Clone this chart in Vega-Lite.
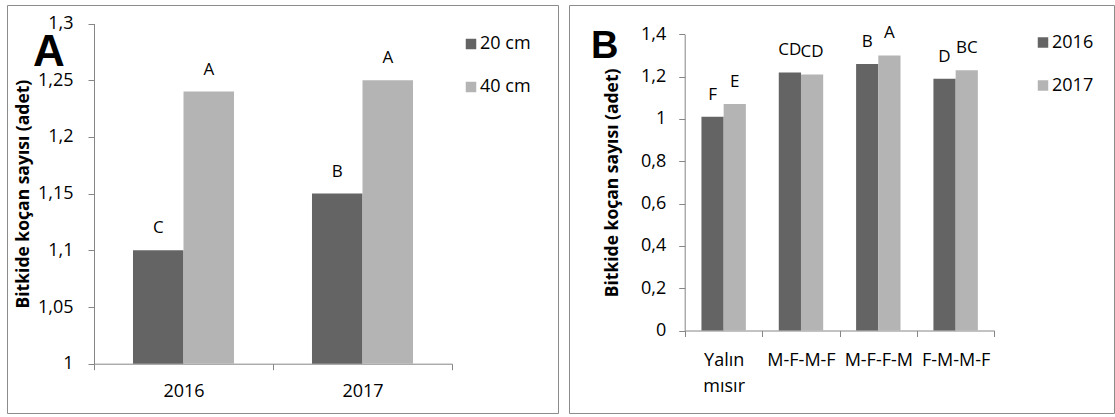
{
  "$schema": "https://vega.github.io/schema/vega-lite/v6.json",
  "background": "white",
  "padding": {"left": 6, "top": 4, "right": 0, "bottom": 0},
  "spacing": 9,
  "config": {
    "font": "Open Sans",
    "view": {"stroke": "#8c8c8c", "strokeWidth": 1},
    "axis": {
      "grid": false,
      "domainColor": "#868686",
      "tickColor": "#868686",
      "tickSize": 6,
      "labelColor": "#000000",
      "labelFontSize": 18,
      "labelFont": "Open Sans",
      "titleColor": "#000000",
      "titleFont": "Open Sans",
      "titleFontSize": 17.5,
      "titleFontWeight": "bold",
      "labelOverlap": false
    },
    "legend": {
      "title": null,
      "orient": "none",
      "symbolType": "square",
      "symbolSize": 110,
      "symbolStrokeWidth": 0,
      "symbolOpacity": 1,
      "labelFontSize": 18,
      "labelFont": "Open Sans",
      "labelColor": "#000000",
      "labelOffset": 0,
      "rowPadding": 25
    },
    "title": {
      "anchor": "start",
      "frame": "group",
      "font": "Liberation Sans Narrow, Liberation Sans",
      "fontWeight": "bold",
      "color": "#000000",
      "baseline": "alphabetic",
      "offset": 0
    }
  },
  "datasets": {
    "aralik": [
      {"yil": "2016", "aralik": "20 cm", "deger": 1.10, "harf": "C"},
      {"yil": "2016", "aralik": "40 cm", "deger": 1.24, "harf": "A"},
      {"yil": "2017", "aralik": "20 cm", "deger": 1.15, "harf": "B"},
      {"yil": "2017", "aralik": "40 cm", "deger": 1.25, "harf": "A"}
    ],
    "sistem": [
      {"sistem": "Yalın mısır", "yil": "2016", "deger": 1.01, "harf": "F"},
      {"sistem": "Yalın mısır", "yil": "2017", "deger": 1.07, "harf": "E"},
      {"sistem": "M-F-M-F", "yil": "2016", "deger": 1.22, "harf": "CD"},
      {"sistem": "M-F-M-F", "yil": "2017", "deger": 1.21, "harf": "CD"},
      {"sistem": "M-F-F-M", "yil": "2016", "deger": 1.26, "harf": "B"},
      {"sistem": "M-F-F-M", "yil": "2017", "deger": 1.30, "harf": "A"},
      {"sistem": "F-M-M-F", "yil": "2016", "deger": 1.19, "harf": "D"},
      {"sistem": "F-M-M-F", "yil": "2017", "deger": 1.23, "harf": "BC"}
    ]
  },
  "hconcat": [
    {
      "width": 551,
      "height": 408,
      "title": {"text": "A", "fontSize": 44, "dx": 26, "dy": 74},
      "data": {"name": "aralik"},
      "encoding": {
        "x": {
          "field": "yil",
          "type": "nominal",
          "sort": ["2016", "2017"],
          "scale": {"range": [87, 445], "paddingInner": 0, "paddingOuter": 0},
          "axis": {
            "title": null,
            "labelAngle": 0,
            "tickBand": "extent",
            "offset": -49.3,
            "labelPadding": 13
          }
        },
        "xOffset": {
          "field": "aralik",
          "type": "nominal",
          "sort": ["20 cm", "40 cm"],
          "scale": {"paddingInner": 0, "paddingOuter": 0.772}
        },
        "y": {
          "field": "deger",
          "type": "quantitative",
          "scale": {"domain": [1, 1.3], "range": [358.7, 18.5], "zero": false, "nice": false},
          "axis": {
            "title": "Bitkide koçan sayısı (adet)",
            "values": [1, 1.05, 1.1, 1.15, 1.2, 1.25, 1.3],
            "labelExpr": "replace(format(datum.value, '~g'), '.', ',')",
            "offset": -87,
            "labelPadding": 15,
            "titleX": -71,
            "titleY": 188.6,
            "titleBaseline": "middle"
          }
        }
      },
      "layer": [
        {
          "mark": {"type": "bar"},
          "encoding": {
            "y2": {"datum": 1},
            "color": {
              "field": "aralik",
              "type": "nominal",
              "scale": {"domain": ["20 cm", "40 cm"], "range": ["#646464", "#b4b4b4"]},
              "legend": {"legendX": 455, "legendY": 30}
            }
          }
        },
        {
          "mark": {"type": "text", "baseline": "alphabetic", "dy": -17, "fontSize": 17, "color": "#000000"},
          "encoding": {"text": {"field": "harf"}}
        }
      ]
    },
    {
      "width": 545,
      "height": 408,
      "title": {"text": "B", "fontSize": 38, "dx": 22, "dy": 65},
      "data": {"name": "sistem"},
      "encoding": {
        "x": {
          "field": "sistem",
          "type": "nominal",
          "sort": ["Yalın mısır", "M-F-M-F", "M-F-F-M", "F-M-M-F"],
          "scale": {"range": [116, 425.3], "paddingInner": 0, "paddingOuter": 0},
          "axis": {
            "title": null,
            "labelAngle": 0,
            "tickBand": "extent",
            "offset": -82.5,
            "labelPadding": 15,
            "labelLineHeight": 26,
            "labelExpr": "split(datum.label, ' ')"
          }
        },
        "xOffset": {
          "field": "yil",
          "type": "nominal",
          "sort": ["2016", "2017"],
          "scale": {"paddingInner": 0, "paddingOuter": 0.741}
        },
        "y": {
          "field": "deger",
          "type": "quantitative",
          "scale": {"domain": [0, 1.4], "range": [325.5, 29.3], "nice": false},
          "axis": {
            "title": "Bitkide koçan sayısı (adet)",
            "values": [0, 0.2, 0.4, 0.6, 0.8, 1, 1.2, 1.4],
            "labelExpr": "replace(format(datum.value, '~g'), '.', ',')",
            "offset": -115.7,
            "labelPadding": 13,
            "titleX": -72,
            "titleY": 177.4,
            "titleBaseline": "middle"
          }
        }
      },
      "layer": [
        {
          "mark": {"type": "bar"},
          "encoding": {
            "y2": {"datum": 0},
            "color": {
              "field": "yil",
              "type": "nominal",
              "scale": {"domain": ["2016", "2017"], "range": ["#646464", "#b4b4b4"]},
              "legend": {"legendX": 465, "legendY": 28.5}
            }
          }
        },
        {
          "mark": {"type": "text", "baseline": "alphabetic", "dy": -17, "fontSize": 17, "color": "#000000"},
          "encoding": {"text": {"field": "harf"}}
        }
      ]
    }
  ],
  "resolve": {
    "scale": {"x": "independent", "y": "independent", "xOffset": "independent", "color": "independent"},
    "axis": {"x": "independent", "y": "independent"},
    "legend": {"color": "independent"}
  }
}
